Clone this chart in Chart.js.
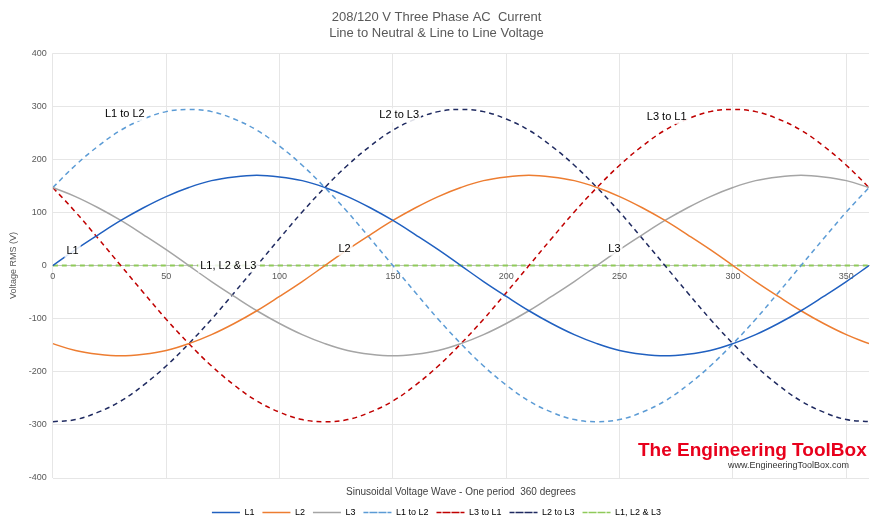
<!DOCTYPE html>
<html><head><meta charset="utf-8">
<script src="https://cdn.jsdelivr.net/npm/chart.js@4"></script>
<style>body{margin:0;background:#fff}#w{width:889px;height:527px}</style>
</head><body><div id="w"><canvas id="c"></canvas></div>
<script>
var degrees = [0,10,20,30,40,50,60,70,80,90,100,110,120,130,140,150,160,170,180,190,200,210,220,230,240,250,260,270,280,290,300,310,320,330,340,350,360]
var xTicks = [0,50,100,150,200,250,300,350]
var l1 = [0,30,58,85,109,130,147,160,167,170,167,160,147,130,109,85,58,30,0,-30,-58,-85,-109,-130,-147,-160,-167,-170,-167,-160,-147,-130,-109,-85,-58,-30,0]
var l2 = [-147,-160,-167,-170,-167,-160,-147,-130,-109,-85,-58,-30,0,30,58,85,109,130,147,160,167,170,167,160,147,130,109,85,58,30,0,-30,-58,-85,-109,-130,-147]
var l3 = [147,130,109,85,58,30,0,-30,-58,-85,-109,-130,-147,-160,-167,-170,-167,-160,-147,-130,-109,-85,-58,-30,0,30,58,85,109,130,147,160,167,170,167,160,147]
var l1toL2 = [147,189,225,255,276,290,294,290,276,255,225,189,147,101,51,0,-51,-101,-147,-189,-225,-255,-276,-290,-294,-290,-276,-255,-225,-189,-147,-101,-51,0,51,101,147]
var l3toL1 = [147,101,51,0,-51,-101,-147,-189,-225,-255,-276,-290,-294,-290,-276,-255,-225,-189,-147,-101,-51,0,51,101,147,189,225,255,276,290,294,290,276,255,225,189,147]
var l2toL3 = [-294,-290,-276,-255,-225,-189,-147,-101,-51,0,51,101,147,189,225,255,276,290,294,290,276,255,225,189,147,101,51,0,-51,-101,-147,-189,-225,-255,-276,-290,-294]
var zero = [0,0,0,0,0,0,0,0,0,0,0,0,0,0,0,0,0,0,0,0,0,0,0,0,0,0,0,0,0,0,0,0,0,0,0,0,0]
var notes = [["L1",6,28],["L2",126,32],["L3",245,32],["L1, L2 & L3",65,0],["L1 to L2",23,285],["L2 to L3",144,283],["L3 to L1",262,280]]

function pts(v){ return v.map(function(y,i){ return {x:degrees[i], y:y} }) }
function ds(label, v, color, dash, w){
  return {label:label, data:pts(v), borderColor:color, backgroundColor:color, borderWidth:w||1.5,
    borderDash:dash?[5,4]:[], pointRadius:0, tension:0.4, fill:false}
}

var notesPlugin = {
  id:'notes',
  afterDatasetsDraw: function(chart){
    var c = chart.ctx, xs = chart.scales.x, ys = chart.scales.y
    c.save(); c.font = '11px "Liberation Sans", Arial'; c.textBaseline = 'middle'
    notes.forEach(function(n){
      var px = xs.getPixelForValue(n[1]), py = ys.getPixelForValue(n[2]), w = c.measureText(n[0]).width
      c.fillStyle = 'rgba(255,255,255,0.85)'; c.fillRect(px - 2, py - 7, w + 4, 14)
      c.fillStyle = '#000'; c.fillText(n[0], px, py)
    })
    c.fillStyle = '#e8001c'; c.font = 'bold 19px "Liberation Sans Narrow", Arial'
    c.fillText('The Engineering ToolBox', 638, 451)
    c.fillStyle = '#333'; c.font = '9px "Liberation Sans", Arial'
    c.fillText('www.EngineeringToolBox.com', 728, 466)
    c.restore()
  }
}

new Chart(document.getElementById('c'), {
  type:'line',
  data:{ datasets:[
    ds('L1', l1, '#2060c0', false),
    ds('L2', l2, '#ed7d31', false),
    ds('L3', l3, '#a5a5a5', false),
    ds('L1 to L2', l1toL2, '#5b9bd5', true),
    ds('L3 to L1', l3toL1, '#c00000', true),
    ds('L2 to L3', l2toL3, '#1f2a60', true),
    ds('L1, L2 & L3', zero, '#8fca5a', true, 2)
  ]},
  options:{
    responsive:true, maintainAspectRatio:false, animation:false,
    layout:{padding:{left:4,right:20,top:6,bottom:0}},
    scales:{
      x:{ type:'linear', min:0, max:360, position:{y:0},
        grid:{color:'#e6e6e6', drawTicks:false}, border:{color:'#bfbfbf'},
        afterBuildTicks:function(s){ s.ticks = xTicks.map(function(v){ return {value:v} }) },
        ticks:{ autoSkip:false, color:'#595959', font:{size:9}, padding:6 }
      },
      y:{ min:-400, max:400, grid:{color:'#e6e6e6', drawTicks:false}, border:{display:false},
        ticks:{ stepSize:100, color:'#595959', font:{size:9}, padding:6 },
        title:{ display:true, text:'Voltage RMS (V)', color:'#595959', font:{size:9} } },
      xt:{ type:'linear', position:'bottom', display:true, grid:{display:false}, border:{display:false},
        ticks:{display:false}, title:{display:true, text:'Sinusoidal Voltage Wave - One period  360 degrees', color:'#404040', font:{size:10}, padding:{top:0,bottom:2}} }
    },
    plugins:{
      title:{ display:true, text:['208/120 V Three Phase AC  Current','Line to Neutral & Line to Line Voltage'], color:'#595959', font:{size:13, weight:'normal'}, padding:{top:4,bottom:12} },
      legend:{ position:'bottom', labels:{ boxWidth:28, boxHeight:0, color:'#595959', font:{size:9}, padding:8,
        generateLabels:function(chart){
          return chart.data.datasets.map(function(d,i){ return {text:d.label, strokeStyle:d.borderColor, fillStyle:d.borderColor, lineWidth:1.5, lineDash:d.borderDash, datasetIndex:i} })
        } } },
      tooltip:{enabled:false}
    }
  },
  plugins:[notesPlugin]
})
</script></body></html>
